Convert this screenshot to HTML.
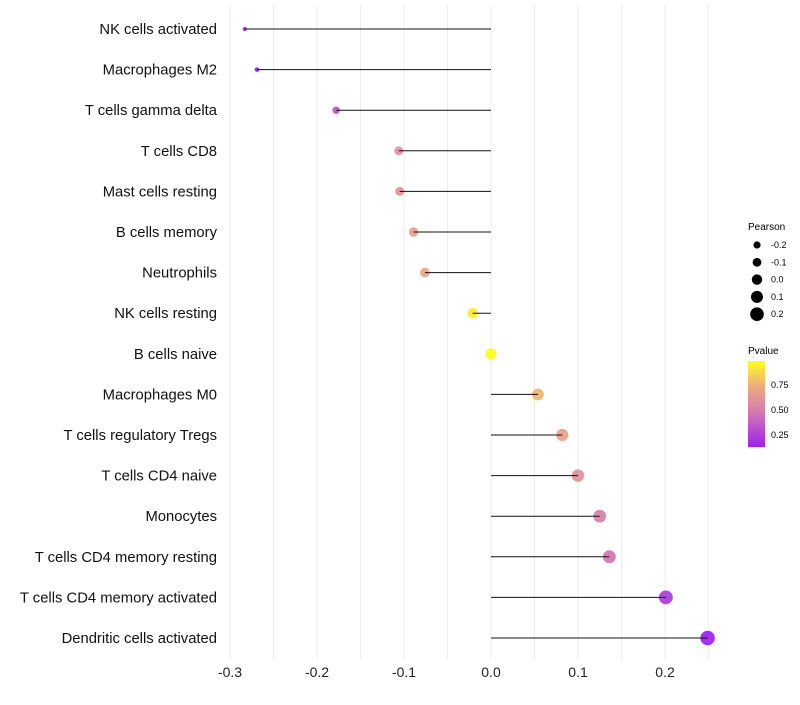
<!DOCTYPE html>
<html><head><meta charset="utf-8"><style>
body{margin:0;background:#fff;font-family:"Liberation Sans",sans-serif}
</style></head><body>
<svg id="chart" width="800" height="700" xmlns="http://www.w3.org/2000/svg">
<defs><linearGradient id="pg" x1="0" y1="1" x2="0" y2="0">
<stop offset="0" stop-color="#a020f0"/><stop offset="0.45" stop-color="#d883a8"/><stop offset="0.7" stop-color="#eda980"/><stop offset="1" stop-color="#ffff20"/></linearGradient></defs>
<g id="grid"></g><g id="dots"></g><g id="marks"></g><g id="labels"></g>
<g font-size="9">
<text x="748" y="230" font-size="10">Pearson</text>
<g id="sizeLeg"></g>
</g>
<g font-size="9">
<text x="748" y="354" font-size="10">Pvalue</text>
<rect x="748" y="361" width="17" height="86" fill="url(#pg)"/>
<text x="771" y="388">0.75</text><text x="771" y="413">0.50</text><text x="771" y="438">0.25</text>
</g>
</svg>
<script>
const categories=["NK cells activated","Macrophages M2","T cells gamma delta","T cells CD8","Mast cells resting","B cells memory","Neutrophils","NK cells resting","B cells naive","Macrophages M0","T cells regulatory  Tregs ","T cells CD4 naive","Monocytes","T cells CD4 memory resting","T cells CD4 memory activated","Dendritic cells activated"];
const pearson=[-0.283,-0.269,-0.178,-0.106,-0.105,-0.089,-0.076,-0.021,0,0.054,0.082,0.1,0.125,0.136,0.201,0.249];
const pvalues=[0.03,0.06,0.32,0.6,0.6,0.66,0.7,0.92,1.0,0.76,0.67,0.58,0.5,0.45,0.22,0.12];
const xTicks=[-0.3,-0.2,-0.1,0.0,0.1,0.2];
const sizeLegend=[-0.2,-0.1,0.0,0.1,0.2];
const NS="http://www.w3.org/2000/svg";
const x=v=>491+v*870;
const y=i=>29+i*40.6;
const r=v=>Math.sqrt(Math.max(3,30+90*v));
function col(p){const st=[[0,[160,32,240]],[0.45,[216,131,168]],[0.7,[237,169,128]],[1,[255,255,20]]];
 p=(p-0.12)/0.86;p=Math.max(0,Math.min(1,p));
 for(let k=1;k<st.length;k++){if(p<=st[k][0]){const a=st[k-1],b=st[k],t=(p-a[0])/(b[0]-a[0]);return`rgb(${a[1].map((c,j)=>Math.round(c+(b[1][j]-c)*t)).join(",")})`;}}return"rgb(255,255,20)";}
function mk(t,at,par){const e=document.createElementNS(NS,t);for(const k in at)e.setAttribute(k,at[k]);par.appendChild(e);return e;}
const G=document.getElementById("grid"),M=document.getElementById("marks"),D=document.getElementById("dots"),L=document.getElementById("labels");
for(let v=-0.3;v<=0.251;v+=0.05){const g=mk("line",{x1:x(v),x2:x(v),y1:5,y2:660,stroke:"#ededed","stroke-width":1},G);

}
xTicks.forEach(t=>{const e=mk("text",{x:x(t),y:677,"text-anchor":"middle","font-size":14,fill:"#222"},L);e.textContent=t.toFixed(1);

});
categories.forEach((c,i)=>{
 const t=mk("text",{x:217,y:y(i)+5,"text-anchor":"end","font-size":14.8,fill:"#111"},L);t.textContent=c;
 
 
 const d=mk("circle",{cx:x(pearson[i]),cy:y(i),r:r(pearson[i]),fill:col(pvalues[i]),"fill-opacity":0.92},D);
 
 
 const ln=mk("line",{x1:x(0),x2:x(pearson[i]),y1:y(i),y2:y(i),stroke:"#111","stroke-width":1},M);
 
 
});
const S=document.getElementById("sizeLeg");
sizeLegend.forEach((v,i)=>{const cy=245+i*17.3;
 const c=mk("circle",{cx:757,cy:cy,r:5.2+v*8,fill:"#000"},S);
 
 
 const t=mk("text",{x:771,y:cy+3,"font-size":9},S);t.textContent=v.toFixed(1);
 
 });
</script>
</body></html>
